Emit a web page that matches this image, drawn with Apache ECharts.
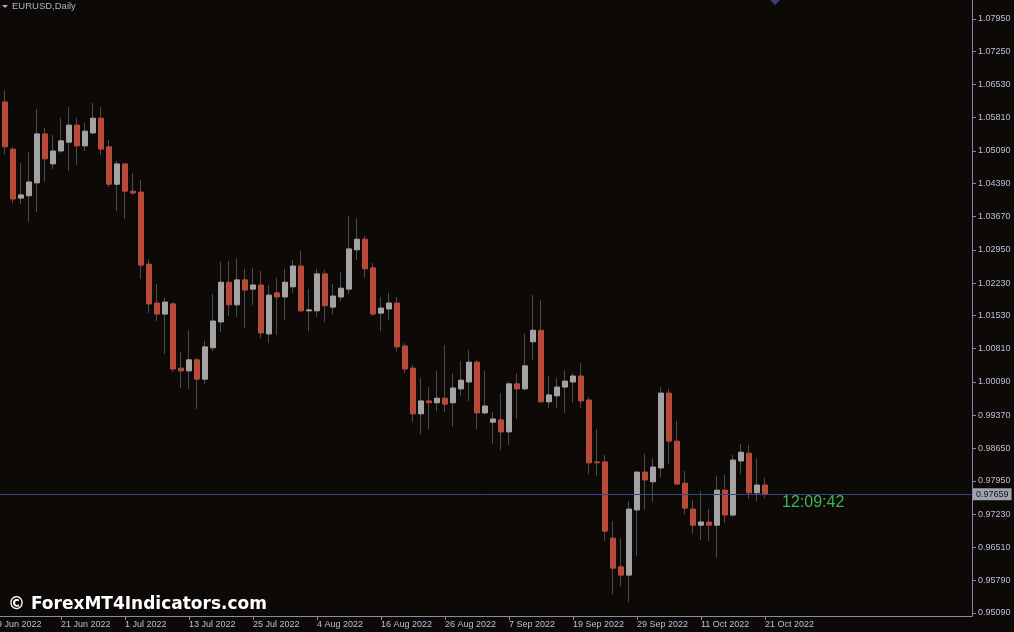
<!DOCTYPE html>
<html>
<head>
<meta charset="utf-8">
<script src="https://cdn.jsdelivr.net/npm/echarts@6/dist/echarts.min.js"></script>
<style>
  html, body { margin: 0; padding: 0; background: #0c0907; }
  #main { width: 1014px; height: 632px; }
</style>
</head>
<body>
<div id="main"></div>
<script>
// EURUSD daily bars, 9 Jun 2022 .. 21 Oct 2022
var dates = [
  '2022-06-09','2022-06-10','2022-06-13','2022-06-14','2022-06-15','2022-06-16','2022-06-17','2022-06-20',
  '2022-06-21','2022-06-22','2022-06-23','2022-06-24','2022-06-27','2022-06-28','2022-06-29','2022-06-30',
  '2022-07-01','2022-07-04','2022-07-05','2022-07-06','2022-07-07','2022-07-08','2022-07-11','2022-07-12',
  '2022-07-13','2022-07-14','2022-07-15','2022-07-18','2022-07-19','2022-07-20','2022-07-21','2022-07-22',
  '2022-07-25','2022-07-26','2022-07-27','2022-07-28','2022-07-29','2022-08-01','2022-08-02','2022-08-03',
  '2022-08-04','2022-08-05','2022-08-08','2022-08-09','2022-08-10','2022-08-11','2022-08-12','2022-08-15',
  '2022-08-16','2022-08-17','2022-08-18','2022-08-19','2022-08-22','2022-08-23','2022-08-24','2022-08-25',
  '2022-08-26','2022-08-29','2022-08-30','2022-08-31','2022-09-01','2022-09-02','2022-09-05','2022-09-06',
  '2022-09-07','2022-09-08','2022-09-09','2022-09-12','2022-09-13','2022-09-14','2022-09-15','2022-09-16',
  '2022-09-19','2022-09-20','2022-09-21','2022-09-22','2022-09-23','2022-09-26','2022-09-27','2022-09-28',
  '2022-09-29','2022-09-30','2022-10-03','2022-10-04','2022-10-05','2022-10-06','2022-10-07','2022-10-10',
  '2022-10-11','2022-10-12','2022-10-13','2022-10-14','2022-10-17','2022-10-18','2022-10-19','2022-10-20',
  '2022-10-21'
];

var openV = [
  1.0715,1.0615,1.0513,1.0407,1.0412,1.0440,1.0546,1.0481,1.0509,1.0528,
  1.0565,1.0520,1.0548,1.0580,1.0518,1.0437,1.0481,1.0422,1.0420,1.0264,
  1.0180,1.0156,1.0178,1.0039,1.0033,1.0057,1.0015,1.0083,1.0139,1.0225,
  1.0176,1.0230,1.0210,1.0219,1.0113,1.0202,1.0193,1.0215,1.0260,1.0163,
  1.0163,1.0243,1.0171,1.0193,1.0210,1.0295,1.0318,1.0256,1.0158,1.0167,
  1.0180,1.0087,1.0039,0.9940,0.9968,0.9964,0.9974,0.9964,0.9994,1.0009,
  1.0052,0.9942,0.9922,0.9927,0.9901,1.0005,0.9994,1.0096,1.0121,0.9966,
  0.9979,0.9998,1.0009,1.0022,0.9970,0.9836,0.9836,0.9671,0.9609,0.9591,
  0.9732,0.9814,0.9793,0.9823,0.9985,0.9881,0.9790,0.9734,0.9699,0.9706,
  0.9699,0.9775,0.9721,0.9838,0.9855,0.9769,0.9786
];
var highV = [
  1.0773,1.0641,1.0518,1.0483,1.0507,1.0600,1.0559,1.0544,1.0580,1.0604,
  1.0580,1.0570,1.0613,1.0604,1.0533,1.0487,1.0483,1.0461,1.0446,1.0275,
  1.0221,1.0191,1.0182,1.0074,1.0121,1.0061,1.0098,1.0199,1.0269,1.0271,
  1.0277,1.0254,1.0256,1.0249,1.0219,1.0234,1.0254,1.0273,1.0293,1.0210,
  1.0254,1.0251,1.0221,1.0247,1.0368,1.0364,1.0325,1.0267,1.0193,1.0202,
  1.0193,1.0093,1.0046,1.0018,0.9998,1.0033,1.0089,1.0028,1.0054,1.0078,
  1.0057,1.0033,0.9944,0.9985,1.0009,1.0028,1.0113,1.0197,1.0186,1.0022,
  1.0018,1.0035,1.0028,1.0050,0.9976,0.9907,0.9851,0.9708,0.9671,0.9751,
  0.9816,0.9853,0.9844,0.9998,0.9994,0.9925,0.9816,0.9754,0.9773,0.9734,
  0.9806,0.9808,0.9851,0.9875,0.9873,0.9844,0.9801
];
var lowV = [
  1.0611,1.0502,1.0396,1.0394,1.0355,1.0377,1.0442,1.0470,1.0505,1.0466,
  1.0479,1.0509,1.0546,1.0500,1.0431,1.0379,1.0362,1.0414,1.0232,1.0158,
  1.0141,1.0070,1.0031,0.9996,0.9994,0.9950,1.0005,1.0076,1.0117,1.0152,
  1.0150,1.0126,1.0176,1.0104,1.0093,1.0111,1.0143,1.0202,1.0160,1.0119,
  1.0150,1.0139,1.0156,1.0184,1.0199,1.0273,1.0234,1.0152,1.0119,1.0143,
  1.0076,1.0028,0.9922,0.9896,0.9907,0.9946,0.9944,0.9912,0.9979,0.9968,
  0.9907,0.9940,0.9875,0.9862,0.9873,0.9929,0.9992,1.0057,0.9964,0.9953,
  0.9953,0.9942,0.9964,0.9953,0.9810,0.9806,0.9665,0.9550,0.9567,0.9533,
  0.9632,0.9732,0.9749,0.9803,0.9831,0.9786,0.9723,0.9680,0.9667,0.9665,
  0.9628,0.9704,0.9717,0.9810,0.9756,0.9751,0.9758
];
var closeV = [
  1.0615,1.0518,1.0405,1.0414,1.0442,1.0546,1.0492,1.0509,1.0531,1.0565,
  1.0520,1.0552,1.0580,1.0513,1.0437,1.0481,1.0422,1.0418,1.0262,1.0178,
  1.0156,1.0182,1.0037,1.0033,1.0057,1.0015,1.0085,1.0141,1.0225,1.0176,
  1.0230,1.0208,1.0219,1.0115,1.0197,1.0193,1.0225,1.0260,1.0163,1.0165,
  1.0243,1.0174,1.0195,1.0212,1.0297,1.0318,1.0254,1.0156,1.0169,1.0180,
  1.0085,1.0037,0.9940,0.9968,0.9964,0.9974,0.9961,0.9996,1.0013,1.0052,
  0.9942,0.9957,0.9929,0.9901,1.0005,0.9994,1.0044,1.0121,0.9966,0.9981,
  0.9998,1.0011,1.0022,0.9968,0.9834,0.9834,0.9686,0.9606,0.9591,0.9734,
  0.9814,0.9797,0.9825,0.9985,0.9881,0.9788,0.9736,0.9699,0.9706,0.9699,
  0.9775,0.9721,0.9840,0.9857,0.9769,0.9786,0.97659
];

// price scale labels (MT4 rounds its steps)
var yTicks = [1.0795,1.0725,1.0653,1.0581,1.0509,1.0439,1.0367,1.0295,1.0223,1.0153,
              1.0081,1.0009,0.9937,0.9865,0.9795,0.9723,0.9651,0.9579,0.9509];
// bar indexes that carry a date label
var xTicks = [0,8,16,24,32,40,48,56,64,72,80,88,96];
var lastPrice = 0.97659;
var months = ['Jan','Feb','Mar','Apr','May','Jun','Jul','Aug','Sep','Oct','Nov','Dec'];

var wicks = [], bodies = [];
for (var i = 0; i < dates.length; i++) {
  wicks.push([i, openV[i], closeV[i], lowV[i], highV[i]]);
  bodies.push([i, openV[i], closeV[i], Math.min(openV[i], closeV[i]), Math.max(openV[i], closeV[i])]);
}

var axisCol = '#868ca6';
var textCol = '#b9c0d2';
var font = 'Liberation Sans';

var chart = echarts.init(document.getElementById('main'));
var option = {
  backgroundColor: '#0c0907',
  animation: false,
  grid: { left: -8, right: 42, top: 0, bottom: 16, outerBoundsMode: 'none', containLabel: false },
  xAxis: {
    type: 'value',
    min: -0.625,
    max: 121.875,
    axisLine: { show: true, onZero: false, lineStyle: { color: axisCol, width: 1 } },
    axisTick: { show: true, customValues: xTicks, length: 4, lineStyle: { color: axisCol } },
    axisLabel: {
      customValues: xTicks,
      align: 'left',
      margin: 4,
      color: textCol,
      fontSize: 9,
      fontFamily: font,
      formatter: function (v) {
        var d = dates[Math.round(v)];
        if (!d) return '';
        var p = d.split('-');
        return parseInt(p[2], 10) + ' ' + months[parseInt(p[1], 10) - 1] + ' ' + p[0];
      }
    },
    splitLine: { show: false }
  },
  yAxis: {
    type: 'value',
    position: 'right',
    min: 0.95025,
    max: 1.08358,
    axisLine: { show: true, onZero: false, lineStyle: { color: axisCol, width: 1 } },
    axisTick: { show: true, customValues: yTicks, length: 4, lineStyle: { color: axisCol } },
    axisLabel: {
      customValues: yTicks,
      margin: 6,
      color: textCol,
      fontSize: 9,
      fontFamily: font,
      formatter: function (v) { return v.toFixed(5); }
    },
    splitLine: { show: false }
  },
  series: [
    {
      // wicks
      type: 'candlestick',
      data: wicks,
      encode: { x: 0, y: [1, 2, 3, 4] },
      barWidth: 1,
      silent: true,
      clip: false,
      itemStyle: {
        color: '#4c4c4c', color0: '#4c4c4c',
        borderColor: '#4c4c4c', borderColor0: '#4c4c4c',
        borderWidth: 1
      }
    },
    {
      // bodies
      type: 'candlestick',
      data: bodies,
      encode: { x: 0, y: [1, 2, 3, 4] },
      barWidth: 6,
      silent: true,
      clip: false,
      itemStyle: {
        color: '#a3a3a3', color0: '#b94a3a',
        borderColor: '#a3a3a3', borderColor0: '#b94a3a',
        borderWidth: 1
      },
      markLine: {
        silent: true,
        symbol: 'none',
        animation: false,
        precision: 5,
        data: [{ yAxis: lastPrice }],
        lineStyle: { color: '#37458e', type: 'solid', width: 1 },
        label: {
          position: 'end',
          distance: 1,
          padding: [2, 3, 1, 3],
          backgroundColor: '#9fa3b0',
          color: '#12141c',
          fontSize: 9,
          fontFamily: font,
          formatter: function (p) { return Number(p.value).toFixed(5); }
        }
      }
    }
  ],
  graphic: [
    { type: 'polygon', shape: { points: [[2, 5], [8, 5], [5, 8]] }, style: { fill: '#a9b2cc' } },
    { type: 'text', left: 12, top: 1, style: { text: 'EURUSD,Daily', fill: '#a9b2cc', font: '9.5px "Liberation Sans"' } },
    { type: 'polygon', shape: { points: [[770, 0], [780, 0], [775, 5]] }, style: { fill: '#3b4178' } },
    { type: 'text', left: 782, top: 495, style: { text: '12:09:42', fill: '#3fb54c', font: '16px "Liberation Sans"' } },
    { type: 'text', left: 8, top: 596, style: { text: '\u00a9 ForexMT4Indicators.com', fill: '#ffffff', font: 'bold 17px "DejaVu Sans"' } }
  ]
};
chart.setOption(option);
window.onresize = chart.resize;
</script>
</body>
</html>
